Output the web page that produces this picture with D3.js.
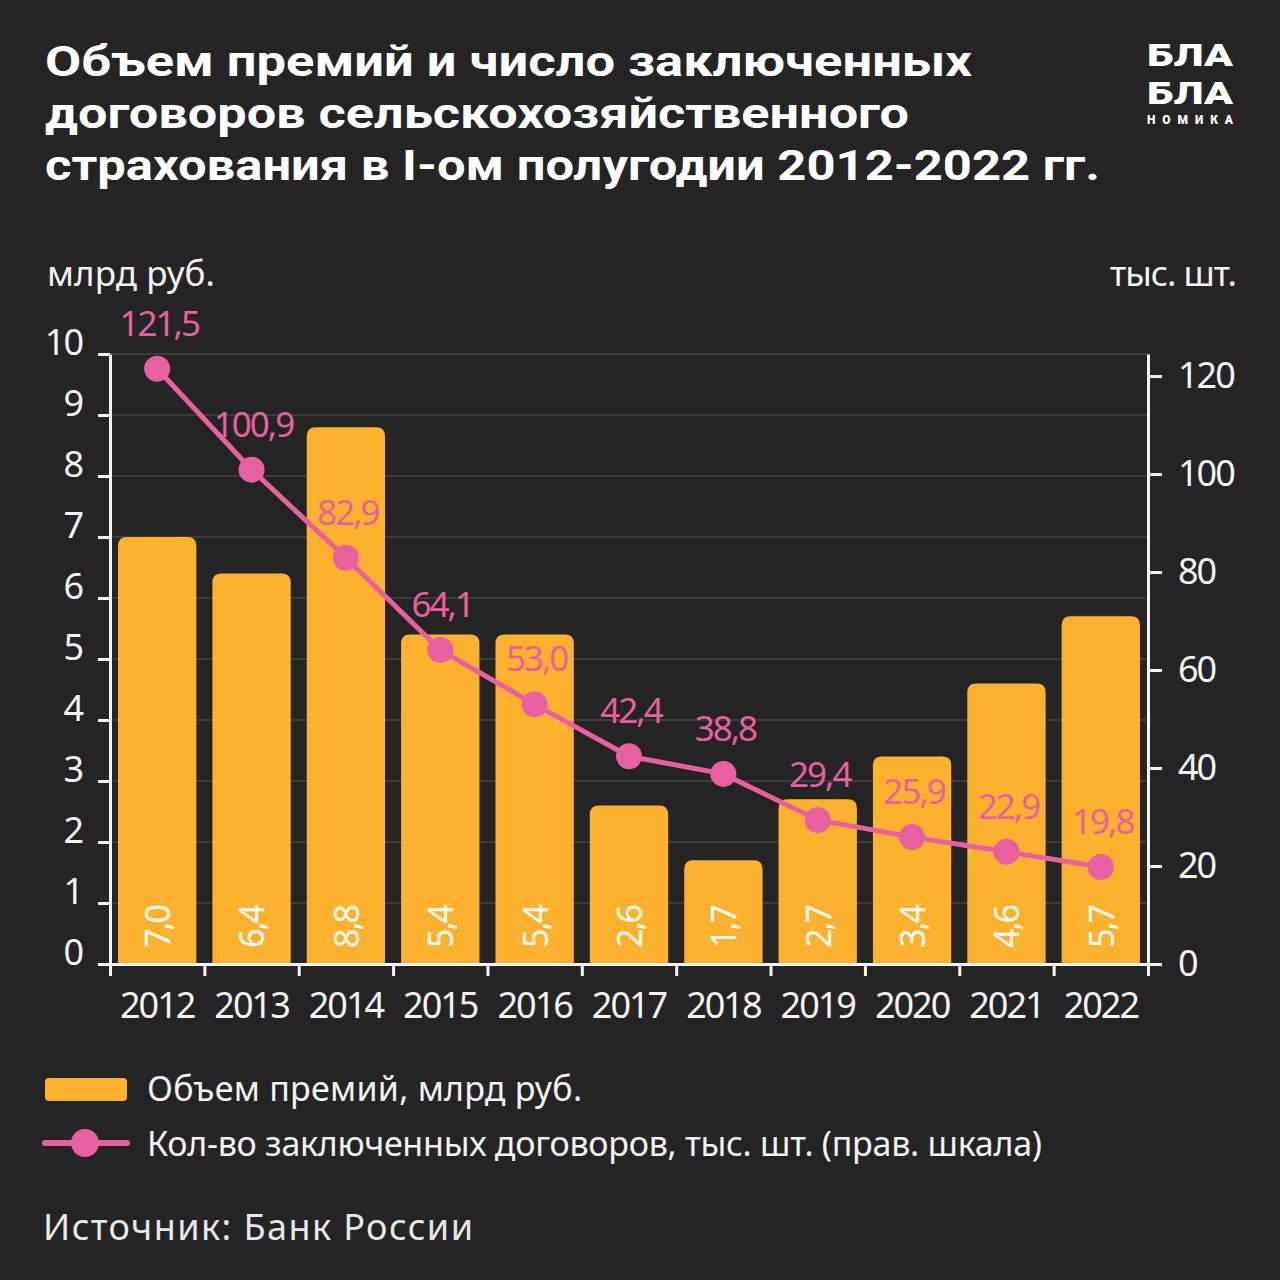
<!DOCTYPE html>
<html>
<head>
<meta charset="utf-8">
<script src="https://cdn.jsdelivr.net/npm/d3@7"></script>
<style>
  body { margin: 0; background: #252525; }
  svg { display: block; }
  text { font-family: "Noto Sans", "Open Sans", sans-serif; }
</style>
</head>
<body>
<svg id="chart" width="1280" height="1280"></svg>
<script>
// data
var years = ["2012", "2013", "2014", "2015", "2016", "2017", "2018", "2019", "2020", "2021", "2022"];
var premiums = [7.0, 6.4, 8.8, 5.4, 5.4, 2.6, 1.7, 2.7, 3.4, 4.6, 5.7];
var contracts = [121.5, 100.9, 82.9, 64.1, 53.0, 42.4, 38.8, 29.4, 25.9, 22.9, 19.8];
var leftTicks = [0, 1, 2, 3, 4, 5, 6, 7, 8, 9, 10];
var rightTicks = [0, 20, 40, 60, 80, 100, 120];

var titleLines = [
  "Объем премий и число заключенных",
  "договоров сельскохозяйственного",
  "страхования в I-ом полугодии 2012-2022 гг."
];
var logoLines = ["БЛА", "БЛА", "НОМИКА"];
var legendBar = "Объем премий, млрд руб.";
var legendLine = "Кол-во заключенных договоров, тыс. шт. (прав. шкала)";
var source = "Источник: Банк России";

var orange = "#fdb22f", pink = "#e8609f", bg = "#252525", white = "#f4f4f4";
var fmt = function (v) { return v.toFixed(1).replace(".", ","); };

var svg = d3.select("#chart");
svg.append("rect").attr("width", 1280).attr("height", 1280).attr("fill", bg);

// title
var titleWidths = [927, 864, 1055];
svg.append("g").selectAll("text")
  .data(titleLines)
  .join("text")
  .attr("x", 45)
  .attr("y", function (d, i) { return 76 + i * 52; })
  .attr("textLength", function (d, i) { return titleWidths[i]; })
  .attr("lengthAdjust", "spacingAndGlyphs")
  .attr("fill", "#fff")
  .style("font-family", "Roboto, sans-serif")
  .style("font-size", "43px")
  .style("font-weight", 700)
  .text(function (d) { return d; });

// logo
var logoY = [66, 104, 124], logoSize = [32, 32, 12];
svg.append("g").selectAll("text")
  .data(logoLines)
  .join("text")
  .attr("x", 1147)
  .attr("y", function (d, i) { return logoY[i]; })
  .attr("textLength", 86)
  .attr("lengthAdjust", function (d, i) { return i < 2 ? "spacingAndGlyphs" : "spacing"; })
  .attr("fill", "#fff")
  .style("font-family", "Roboto, sans-serif")
  .style("font-weight", 900)
  .style("font-size", function (d, i) { return logoSize[i] + "px"; })
  .text(function (d) { return d; });

// scales
var x = d3.scaleBand().domain(years).range([110, 1148]).paddingInner(0.17).paddingOuter(0.085);
var yL = d3.scaleLinear().domain([0, 10]).range([964, 354]);
var yR = d3.scaleLinear().domain([0, 124.5]).range([964, 354]);
var xEdge = d3.scaleLinear().domain([0, years.length]).range([110, 1148]);

// unit labels
svg.append("text").attr("x", 47).attr("y", 286).attr("fill", white)
  .attr("textLength", 168).style("font-size", "35px").text("млрд руб.");
svg.append("text").attr("x", 1237).attr("y", 286).attr("text-anchor", "end").attr("fill", white)
  .attr("textLength", 127).style("font-size", "35px").text("тыс. шт.");

// gridlines
svg.append("g").selectAll("line")
  .data(leftTicks.slice(1))
  .join("line")
  .attr("x1", 110).attr("x2", 1148)
  .attr("y1", function (d) { return yL(d); })
  .attr("y2", function (d) { return yL(d); })
  .attr("stroke", "#3c3c3c").attr("stroke-width", 2);

// bars, rounded top only
function barPath(x0, y0, w, h, r) {
  return "M" + x0 + "," + (y0 + h) +
    "V" + (y0 + r) + "Q" + x0 + "," + y0 + " " + (x0 + r) + "," + y0 +
    "H" + (x0 + w - r) + "Q" + (x0 + w) + "," + y0 + " " + (x0 + w) + "," + (y0 + r) +
    "V" + (y0 + h) + "Z";
}
svg.append("g").selectAll("path")
  .data(premiums)
  .join("path")
  .attr("fill", orange)
  .attr("d", function (d, i) {
    return barPath(x(years[i]), yL(d), x.bandwidth(), yL(0) - yL(d), 9);
  });

svg.append("g").selectAll("text")
  .data(premiums)
  .join("text")
  .attr("transform", function (d, i) {
    return "translate(" + (x(years[i]) + x.bandwidth() / 2 + 1) + ",948) rotate(-90)";
  })
  .attr("dy", "0.35em")
  .attr("fill", "#fff")
  .style("font-size", "34px")
  .style("letter-spacing", "-2px")
  .text(fmt);

// axes
function styleAxis(g) {
  g.select(".domain").attr("stroke", white).attr("stroke-width", 3);
  g.selectAll(".tick line").attr("stroke", white).attr("stroke-width", 3);
  g.selectAll(".tick text").attr("fill", white)
    .style("font-size", "36px").style("letter-spacing", "-2px");
}

// left labels sit a little above their ticks, as in the original
svg.append("g")
  .attr("transform", "translate(110,0)")
  .call(d3.axisLeft(yL).tickValues(leftTicks).tickSize(12).tickSizeOuter(0).tickPadding(16))
  .call(styleAxis)
  .call(function (g) { g.selectAll(".tick text").attr("dy", "0em"); });

svg.append("g")
  .attr("transform", "translate(1148,0)")
  .call(d3.axisRight(yR).tickValues(rightTicks).tickSize(14).tickSizeOuter(0).tickPadding(16))
  .call(styleAxis);

svg.append("g")
  .attr("transform", "translate(0,964)")
  .call(d3.axisBottom(xEdge).ticks(years.length).tickSize(12).tickSizeOuter(0).tickFormat(""))
  .call(styleAxis);

svg.append("g")
  .attr("transform", "translate(0,964)")
  .call(d3.axisBottom(x).tickSize(0).tickPadding(28))
  .call(styleAxis)
  .call(function (g) { g.select(".domain").remove(); });

// line series
var line = d3.line()
  .x(function (d, i) { return x(years[i]) + x.bandwidth() / 2; })
  .y(function (d) { return yR(d); });

svg.append("path")
  .datum(contracts)
  .attr("fill", "none")
  .attr("stroke", pink)
  .attr("stroke-width", 5)
  .attr("d", line);

svg.append("g").selectAll("circle")
  .data(contracts)
  .join("circle")
  .attr("cx", function (d, i) { return x(years[i]) + x.bandwidth() / 2; })
  .attr("cy", function (d) { return yR(d); })
  .attr("r", 13)
  .attr("fill", pink);

svg.append("g").selectAll("text")
  .data(contracts)
  .join("text")
  .attr("x", function (d, i) { return x(years[i]) + x.bandwidth() / 2 + 2; })
  .attr("y", function (d) { return yR(d) - 33; })
  .attr("text-anchor", "middle")
  .attr("fill", pink)
  .style("font-size", "35px")
  .style("letter-spacing", "-2px")
  .text(fmt);

// legend
var legend = svg.append("g");
legend.append("rect").attr("x", 45).attr("y", 1078).attr("width", 82).attr("height", 23)
  .attr("rx", 4).attr("fill", orange);
legend.append("text").attr("x", 147).attr("y", 1101).attr("fill", white)
  .attr("textLength", 433).style("font-size", "34px").style("letter-spacing", "-2px")
  .text(legendBar);
legend.append("line").attr("x1", 45).attr("x2", 127).attr("y1", 1143).attr("y2", 1143)
  .attr("stroke", pink).attr("stroke-width", 6).attr("stroke-linecap", "round");
legend.append("circle").attr("cx", 85).attr("cy", 1143).attr("r", 14).attr("fill", pink);
legend.append("text").attr("x", 147).attr("y", 1156).attr("fill", white)
  .attr("textLength", 893).style("font-size", "34px").style("letter-spacing", "-2px")
  .text(legendLine);

// source
svg.append("text").attr("x", 43).attr("y", 1240).attr("fill", "#e8e8e8")
  .attr("textLength", 430).style("font-size", "36px")
  .text(source);
</script>
</body>
</html>
